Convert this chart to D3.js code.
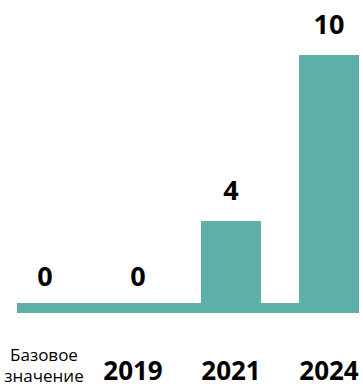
<!DOCTYPE html>
<html>
<head>
<meta charset="utf-8">
<script src="https://cdn.jsdelivr.net/npm/d3@7"></script>
<style>
  html, body { margin: 0; padding: 0; background: #ffffff; }
  svg { display: block; }
</style>
</head>
<body>
<script>
// Data
const categories = ["Базовое значение", "2019", "2021", "2024"];
const values = [0, 0, 4, 10];
const valueLabels = ["0", "0", "4", "10"];

const W = 363, H = 387;
const color = "#5fafa9";

const svg = d3.select("body").append("svg")
  .attr("width", W).attr("height", H);

const x = d3.scaleBand()
  .domain(categories)
  .range([-14, 378])
  .paddingInner(0.388)
  .paddingOuter(0.194);

const y = d3.scaleLinear()
  .domain([0, 10])
  .range([331.7, 55]);

const baseTop = 303, baseBottom = 313;

// baseline strip
svg.append("rect")
  .attr("x", 17).attr("y", baseTop)
  .attr("width", 359 - 17).attr("height", baseBottom - baseTop)
  .attr("fill", color);

// bars (zero values sit on the baseline strip)
svg.selectAll("rect.bar")
  .data(values.filter(d => y(d) < baseTop))
  .join("rect")
  .attr("class", "bar")
  .attr("x", d => x(categories[values.indexOf(d)]))
  .attr("width", x.bandwidth())
  .attr("y", d => y(d))
  .attr("height", d => baseBottom - y(d))
  .attr("fill", color);

// value labels
const labelShift = [10, 5, 0, 0];
svg.selectAll("text.val")
  .data(values)
  .join("text")
  .attr("class", "val")
  .attr("x", (d, i) => x(categories[i]) + x.bandwidth() / 2 + labelShift[i])
  .attr("y", d => d === 0 ? baseTop - 17 : y(d) - 21)
  .attr("text-anchor", "middle")
  .attr("font-family", "'Open Sans', sans-serif")
  .attr("font-weight", 700)
  .attr("font-size", 27)
  .attr("fill", "#000")
  .text((d, i) => valueLabels[i]);

// category labels
categories.forEach((c, i) => {
  const cx = x(c) + x.bandwidth() / 2;
  if (i === 0) {
    const words = c.split(" ");
    const t = svg.append("text")
      .attr("x", 44)
      .attr("text-anchor", "middle")
      .attr("font-family", "'Open Sans', sans-serif")
      .attr("font-size", 17)
      .attr("fill", "#000");
    t.append("tspan").attr("x", 44).attr("y", 361).text(words[0]);
    t.append("tspan").attr("x", 44).attr("y", 382).text(words[1]);
  } else {
    svg.append("text")
      .attr("x", cx)
      .attr("y", 380)
      .attr("text-anchor", "middle")
      .attr("font-family", "'Open Sans', sans-serif")
      .attr("font-weight", 700)
      .attr("font-size", 26)
      .attr("fill", "#000")
      .text(c);
  }
});
</script>
</body>
</html>
